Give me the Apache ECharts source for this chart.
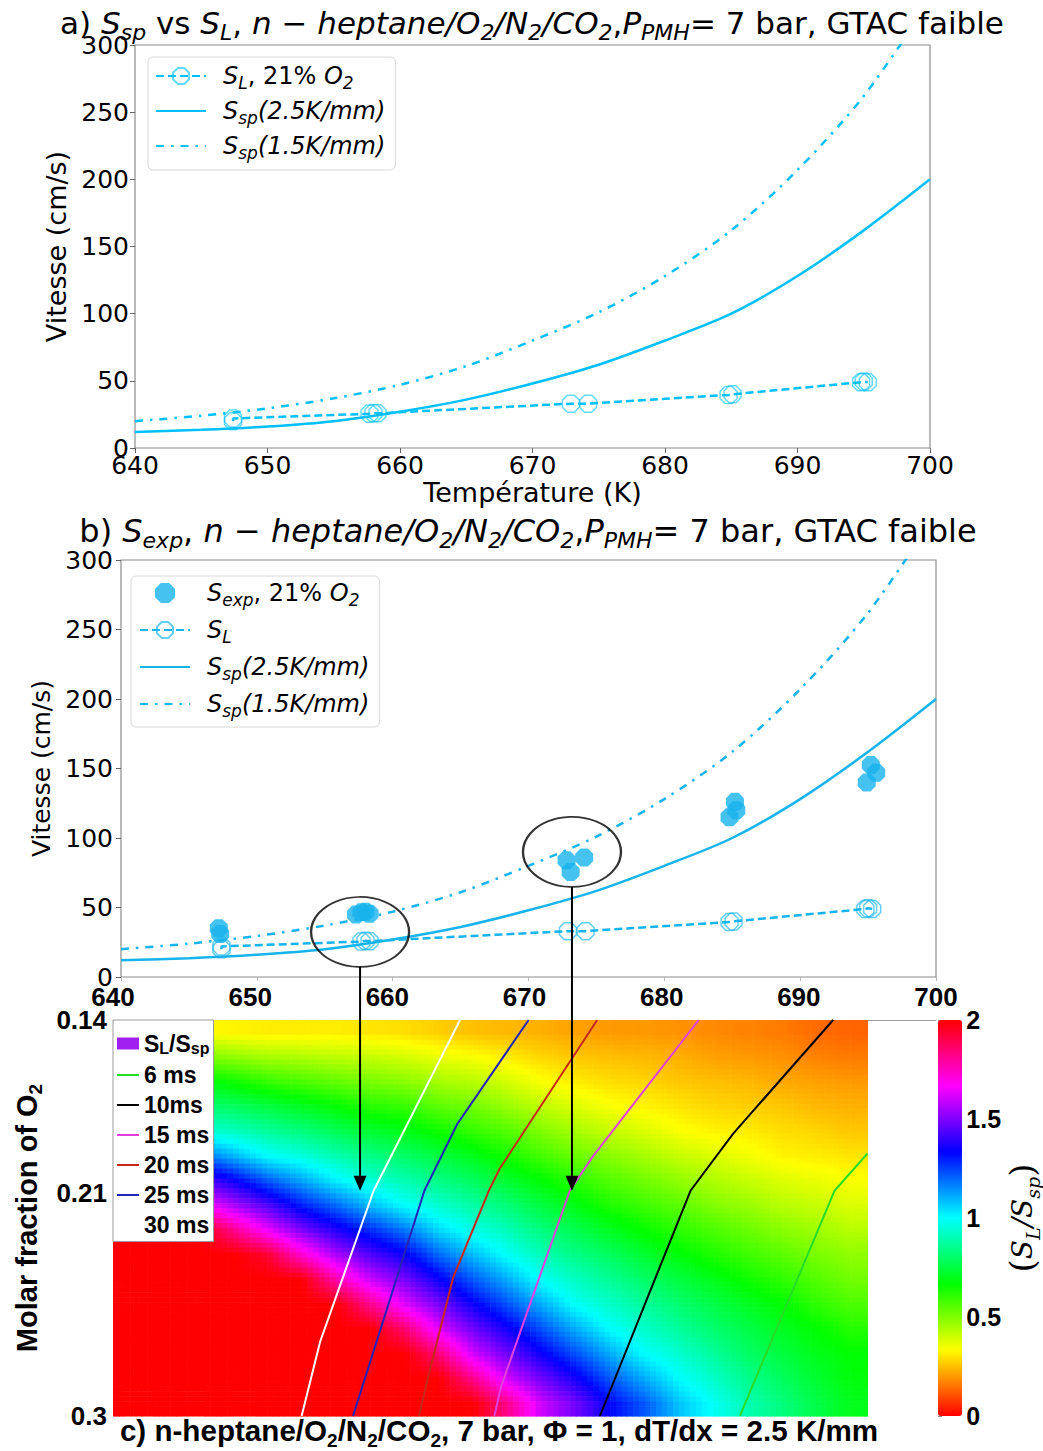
<!DOCTYPE html>
<html>
<head>
<meta charset="utf-8">
<script src="https://cdn.jsdelivr.net/npm/echarts@6/dist/echarts.min.js"></script>
<style>html,body{margin:0;padding:0;background:#fff;}#chart{width:1043px;height:1451px;}</style>
</head>
<body>
<div id="chart"></div>
<script>
// ---------------- data ----------------
const tempTicks = [640, 650, 660, 670, 680, 690, 700];
const speedTicks = [0, 50, 100, 150, 200, 250, 300];

// S_sp curves (cm/s) sampled every 5 K
const curveT = [640, 645, 650, 655, 660, 665, 670, 675, 680, 685, 690, 695, 700];
const ssp25 = [12, 13.5, 16, 20, 27, 36, 48, 62, 80, 100, 128, 162, 200];
const ssp15 = [20, 24, 29.5, 37, 47, 61, 80, 101, 128, 162, 207, 262, 333];

// laminar flame speed S_L (21% O2)
const slT = [647.4, 647.4, 657.7, 658.0, 658.3, 672.9, 674.2, 684.8, 685.1, 694.8, 695.0, 695.3];
const slV = [20, 22, 25.5, 26, 25.8, 33, 33, 39.5, 40, 49, 49.5, 49];

// experimental S_exp (21% O2)
const sexpT = [647.2, 647.3, 657.3, 657.7, 658.0, 658.3, 672.8, 673.1, 674.1, 684.8, 685.2, 685.3, 694.9, 695.2, 695.6];
const sexpV = [35, 31, 45, 46.5, 47, 45.5, 84, 75.5, 86, 115, 126, 120, 140, 152.5, 147];

// highlighted groups (circles) in panel b, and where the arrows land in panel c
const circleT = [657.6, 673.2];
const circleV = [32.4, 90];
const arrowTipO2 = 0.209;

// panel c: S_L/S_sp map, node values (T columns x O2 rows)
const mapT = [641.25, 643.75, 646.25, 648.75, 651.25, 653.75, 656.25, 658.75, 661.25, 663.75, 666.25,
              668.75, 671.25, 673.75, 676.25, 678.75, 681.25, 683.75, 686.25, 688.75, 691.25, 693.75];
const mapO2 = [0.145, 0.155, 0.165, 0.175, 0.185, 0.195, 0.205, 0.215, 0.225, 0.235, 0.245, 0.255, 0.265, 0.275, 0.285, 0.295];
const ratioRows = [
  [0.37,0.35,0.33,0.32,0.31,0.31,0.31,0.30,0.29,0.27,0.25,0.24,0.23,0.21,0.20,0.20,0.19,0.18,0.17,0.16,0.14,0.13],
  [0.57,0.54,0.51,0.48,0.45,0.44,0.42,0.41,0.39,0.36,0.34,0.31,0.28,0.26,0.25,0.24,0.23,0.21,0.20,0.19,0.17,0.16],
  [0.74,0.71,0.68,0.65,0.60,0.57,0.54,0.51,0.49,0.45,0.43,0.39,0.34,0.31,0.29,0.28,0.26,0.25,0.24,0.22,0.21,0.20],
  [0.88,0.85,0.82,0.79,0.75,0.71,0.67,0.62,0.60,0.55,0.52,0.47,0.42,0.38,0.34,0.32,0.30,0.28,0.27,0.26,0.24,0.23],
  [1.07,0.99,0.95,0.92,0.87,0.83,0.78,0.73,0.70,0.65,0.60,0.56,0.50,0.45,0.41,0.38,0.34,0.32,0.31,0.29,0.28,0.26],
  [1.39,1.30,1.20,1.10,1.00,0.96,0.90,0.84,0.80,0.75,0.70,0.64,0.58,0.53,0.49,0.45,0.41,0.38,0.35,0.32,0.31,0.30],
  [1.67,1.56,1.46,1.35,1.22,1.12,1.02,0.95,0.90,0.84,0.79,0.73,0.67,0.61,0.56,0.52,0.48,0.44,0.41,0.38,0.36,0.34],
  [1.97,1.85,1.70,1.56,1.44,1.30,1.20,1.09,1.00,0.94,0.88,0.82,0.75,0.69,0.63,0.59,0.55,0.50,0.47,0.43,0.41,0.38],
  [2.00,2.00,2.00,1.82,1.65,1.50,1.38,1.28,1.18,1.05,0.97,0.91,0.83,0.77,0.71,0.66,0.61,0.57,0.53,0.49,0.46,0.43],
  [2.00,2.00,2.00,2.00,1.94,1.73,1.56,1.44,1.35,1.20,1.09,0.99,0.91,0.84,0.79,0.73,0.68,0.63,0.59,0.55,0.51,0.48],
  [2.00,2.00,2.00,2.00,2.00,2.00,1.78,1.60,1.49,1.35,1.22,1.11,0.99,0.92,0.86,0.80,0.75,0.70,0.65,0.61,0.56,0.52],
  [2.00,2.00,2.00,2.00,2.00,2.00,2.00,1.82,1.63,1.49,1.35,1.23,1.11,0.99,0.93,0.87,0.81,0.76,0.71,0.67,0.61,0.57],
  [2.00,2.00,2.00,2.00,2.00,2.00,2.00,2.00,1.86,1.63,1.48,1.36,1.23,1.11,1.00,0.93,0.87,0.81,0.76,0.71,0.67,0.62],
  [2.00,2.00,2.00,2.00,2.00,2.00,2.00,2.00,2.00,1.85,1.61,1.48,1.35,1.23,1.11,1.00,0.94,0.87,0.80,0.75,0.70,0.67],
  [2.00,2.00,2.00,2.00,2.00,2.00,2.00,2.00,2.00,2.00,1.82,1.61,1.48,1.36,1.22,1.11,1.00,0.93,0.85,0.79,0.73,0.68],
  [2.00,2.00,2.00,2.00,2.00,2.00,2.00,2.00,2.00,2.00,2.00,1.82,1.60,1.48,1.33,1.22,1.08,0.99,0.90,0.83,0.76,0.70]
];
const ratioTicks = [0, 0.5, 1, 1.5, 2];
const o2Ticks = [0.14, 0.21, 0.3];

// ignition-delay iso-lines in panel c (T, O2)
const t6ms = [695.0, 692.6, 685.7];               const o6ms = [0.194, 0.209, 0.30];
const t10ms = [692.5, 685.2, 682.1, 675.5];       const o10ms = [0.14, 0.186, 0.209, 0.30];
const t15ms = [682.7, 675.0, 673.3, 668.3, 667.8]; const o15ms = [0.14, 0.195, 0.209, 0.288, 0.30];
const t20ms = [675.3, 668.2, 667.4, 664.8, 662.9, 662.3]; const o20ms = [0.14, 0.20, 0.209, 0.244, 0.286, 0.30];
const t25ms = [670.3, 665.1, 662.7, 657.5];       const o25ms = [0.14, 0.182, 0.209, 0.30];
const t30ms = [665.3, 659.0, 655.1, 653.75];      const o30ms = [0.14, 0.209, 0.27, 0.30];

// ---------------- helpers / styles ----------------
const zip = (a, b) => a.map((v, i) => [v, b[i]]);
const FONT = 'DejaVu Sans';
const BFONT = 'Liberation Sans';
const octagon = 'path://M-0.414,-1L0.414,-1L1,-0.414L1,0.414L0.414,1L-0.414,1L-1,0.414L-1,-0.414Z';
const blueA = '#00bfff';
const blueB = '#17b3ec';
const hsv = ['#ff0000','#ff8000','#ffff00','#80ff00','#00ff00','#00ff80','#00ffff',
             '#0080ff','#0000ff','#8000ff','#ff00ff','#ff0080','#ff0000'];

function mathRich(size, sub, lh) {
  return {
    n: {fontFamily: FONT, fontWeight: 'normal', fontSize: size, color: '#000', lineHeight: lh},
    i: {fontFamily: FONT, fontWeight: 'normal', fontStyle: 'italic', fontSize: size, color: '#000', lineHeight: lh},
    s: {fontFamily: FONT, fontWeight: 'normal', fontStyle: 'italic', fontSize: sub, color: '#000', lineHeight: Math.round(lh / 2), verticalAlign: 'bottom'},
    g: {fontSize: size, width: 12, lineHeight: lh}
  };
}
const boldRich = (size, sub, lh) => ({
  b: {fontFamily: BFONT, fontWeight: 'bold', fontSize: size, color: '#000', lineHeight: lh},
  bs: {fontFamily: BFONT, fontWeight: 'bold', fontSize: sub, color: '#000', lineHeight: Math.round(lh * 0.45), verticalAlign: 'bottom'}
});

const legendLabels = {
  a_SL: '{g| }{i|S}{s|L}{n|, 21% }{i|O}{s|2}',
  a_S25: '{g| }{i|S}{s|sp}{i|(2.5K/mm)}',
  a_S15: '{g| }{i|S}{s|sp}{i|(1.5K/mm)}',
  b_Sexp: '{g| }{i|S}{s|exp}{n|, 21% }{i|O}{s|2}',
  b_SL: '{g| }{i|S}{s|L}',
  b_S25: '{g| }{i|S}{s|sp}{i|(2.5K/mm)}',
  b_S15: '{g| }{i|S}{s|sp}{i|(1.5K/mm)}'
};
const noSymbol = {opacity: 0};

const heatData = [];
mapO2.forEach((o, i) => mapT.forEach((t, j) => heatData.push([t, o, ratioRows[i][j]])));
const halfT = (mapT[1] - mapT[0]) / 2;
const halfO = (mapO2[1] - mapO2[0]) / 2;
const ratioMin = ratioTicks[0], ratioMax = ratioTicks[ratioTicks.length - 1];

// smooth (interpolated) shading between the read node values, like the original "shading interp"
function shadeAt(t, o) {
  const nT = mapT.length, nO = mapO2.length;
  let fx = (t - mapT[0]) / (2 * halfT), fy = (o - mapO2[0]) / (2 * halfO);
  fx = Math.max(0, Math.min(nT - 1, fx));
  fy = Math.max(0, Math.min(nO - 1, fy));
  const j0 = Math.floor(fx), i0 = Math.floor(fy);
  const j1 = Math.min(j0 + 1, nT - 1), i1 = Math.min(i0 + 1, nO - 1);
  const ax = fx - j0, ay = fy - i0;
  const top = ratioRows[i0][j0] * (1 - ax) + ratioRows[i0][j1] * ax;
  const bot = ratioRows[i1][j0] * (1 - ax) + ratioRows[i1][j1] * ax;
  return top * (1 - ay) + bot * ay;
}
const SUBX = 6, SUBY = 5;

const tickLabel = {fontFamily: FONT, fontSize: 25, color: '#000'};
const boldLabel = {fontFamily: BFONT, fontWeight: 'bold', fontSize: 26, color: '#000'};
const gridFrame = {show: true, borderColor: '#8c8c8c', borderWidth: 1.2, backgroundColor: 'rgba(0,0,0,0)'};
const outTick = {show: true, length: 5, lineStyle: {color: '#666', width: 1}};

function contourSeries(name, ts, os, color) {
  return {
    name: name, type: 'line', xAxisIndex: 2, yAxisIndex: 2, data: zip(ts, os),
    symbol: 'none', silent: true, z: 4,
    lineStyle: {color: color, width: 2}, itemStyle: {color: color},
    emphasis: {disabled: true}
  };
}

const option = {
  animation: false,
  backgroundColor: '#fff',
  title: [
    {
      text: '{n|a) }{i|S}{s|sp}{n| vs }{i|S}{s|L}{n|, }{i|n − heptane/O}{s|2}{i|/N}{s|2}{i|/CO}{s|2}{n|,}{i|P}{s|PMH}{n|= 7 bar, GTAC faible}',
      left: 532, top: 3, textAlign: 'center', padding: 0,
      textStyle: {fontWeight: 'normal', rich: mathRich(31, 22, 40)}
    },
    {
      text: '{n|b) }{i|S}{s|exp}{n|, }{i|n − heptane/O}{s|2}{i|/N}{s|2}{i|/CO}{s|2}{n|,}{i|P}{s|PMH}{n|= 7 bar, GTAC faible}',
      left: 528, top: 511, textAlign: 'center', padding: 0,
      textStyle: {fontWeight: 'normal', rich: mathRich(32, 22, 40)}
    },
    {
      text: '{b|c) n-heptane/O}{bs|2}{b|/N}{bs|2}{b|/CO}{bs|2}{b|, 7 bar, Φ = 1, dT/dx = 2.5 K/mm}',
      left: 499, top: 1410, textAlign: 'center', padding: 0,
      textStyle: {rich: boldRich(29.6, 19, 40)}
    }
  ],
  legend: [
    {
      data: [{name: 'a_SL'}, {name: 'a_S25', itemStyle: noSymbol}, {name: 'a_S15', itemStyle: noSymbol}],
      left: 148, top: 57, orient: 'vertical',
      itemWidth: 50, itemHeight: 20, itemGap: 8, padding: [7, 10, 9, 7],
      backgroundColor: 'rgba(255,255,255,0.85)', borderColor: '#d8d8d8', borderWidth: 1, borderRadius: 5,
      selectedMode: false, formatter: n => legendLabels[n],
      textStyle: {fontFamily: FONT, fontSize: 24, rich: mathRich(24, 17, 30)}
    },
    {
      data: [{name: 'b_Sexp'}, {name: 'b_SL'}, {name: 'b_S25', itemStyle: noSymbol}, {name: 'b_S15', itemStyle: noSymbol}],
      left: 131, top: 576, orient: 'vertical',
      itemWidth: 50, itemHeight: 20, itemGap: 10, padding: [5, 10, 8, 8],
      backgroundColor: 'rgba(255,255,255,0.85)', borderColor: '#d8d8d8', borderWidth: 1, borderRadius: 5,
      selectedMode: false, formatter: n => legendLabels[n],
      textStyle: {fontFamily: FONT, fontSize: 24, rich: mathRich(24, 17, 30)}
    },
    {
      data: [{name: 'S_L/S_sp', icon: 'rect', itemStyle: {color: '#a020f0'}},
             {name: '6 ms', itemStyle: noSymbol}, {name: '10ms', itemStyle: noSymbol}, {name: '15 ms', itemStyle: noSymbol},
             {name: '20 ms', itemStyle: noSymbol}, {name: '25 ms', itemStyle: noSymbol}, {name: '30 ms', itemStyle: noSymbol}],
      left: 113, top: 1020, orient: 'vertical',
      itemWidth: 22, itemHeight: 12, itemGap: 7, padding: [12, 4, 5, 3],
      backgroundColor: '#fff', borderColor: '#9a9a9a', borderWidth: 1, borderRadius: 0,
      selectedMode: false,
      formatter: n => n === 'S_L/S_sp' ? '{b|S}{bs|L}{b|/S}{bs|sp}' : '{b|' + n + '}',
      textStyle: {rich: boldRich(23, 16, 26)}
    }
  ],
  grid: [
    Object.assign({left: 135, right: 113, top: 45, height: 403}, gridFrame),
    Object.assign({left: 121, right: 107, top: 560, height: 417}, gridFrame),
    {left: 113, right: 107, top: 1020, height: 396, show: false},
    {left: 938, width: 24, top: 1020, height: 396, show: false}
  ],
  xAxis: [
    {
      gridIndex: 0, type: 'value', min: tempTicks[0], max: tempTicks[tempTicks.length - 1], interval: tempTicks[1] - tempTicks[0],
      axisLine: {show: false}, axisTick: outTick, splitLine: {show: false},
      axisLabel: Object.assign({margin: 5}, tickLabel),
      name: 'Température (K)', nameLocation: 'middle', nameGap: 31,
      nameTextStyle: {fontFamily: FONT, fontSize: 27, color: '#000'}
    },
    {
      gridIndex: 1, type: 'value', min: tempTicks[0], max: tempTicks[tempTicks.length - 1], interval: tempTicks[1] - tempTicks[0],
      axisLine: {show: false}, axisTick: {show: true, length: 4, lineStyle: {color: '#bbb'}}, splitLine: {show: false},
      axisLabel: {show: false}
    },
    {
      gridIndex: 2, type: 'value', position: 'top', min: tempTicks[0], max: tempTicks[tempTicks.length - 1], interval: tempTicks[1] - tempTicks[0],
      axisLine: {show: true, onZero: false, lineStyle: {color: '#a0a0a0', width: 1}}, axisTick: {show: false}, splitLine: {show: false},
      axisLabel: Object.assign({margin: 10}, boldLabel)
    },
    {gridIndex: 3, type: 'value', min: 0, max: 1, show: false}
  ],
  yAxis: [
    {
      gridIndex: 0, type: 'value', min: speedTicks[0], max: speedTicks[speedTicks.length - 1], interval: speedTicks[1] - speedTicks[0],
      axisLine: {show: false}, axisTick: outTick, splitLine: {show: false},
      axisLabel: Object.assign({margin: 6}, tickLabel),
      name: 'Vitesse (cm/s)', nameLocation: 'middle', nameGap: 57,
      nameTextStyle: {fontFamily: FONT, fontSize: 27, color: '#000'}
    },
    {
      gridIndex: 1, type: 'value', min: speedTicks[0], max: speedTicks[speedTicks.length - 1], interval: speedTicks[1] - speedTicks[0],
      axisLine: {show: false}, axisTick: outTick, splitLine: {show: false},
      axisLabel: Object.assign({margin: 8}, tickLabel),
      name: 'Vitesse (cm/s)', nameLocation: 'middle', nameGap: 61,
      nameTextStyle: {fontFamily: FONT, fontSize: 25, color: '#000'}
    },
    {
      gridIndex: 2, type: 'value', inverse: true, min: o2Ticks[0], max: o2Ticks[o2Ticks.length - 1], interval: 0.01,
      axisLine: {show: false}, axisTick: {show: false}, splitLine: {show: false},
      axisLabel: Object.assign({
        margin: 6,
        formatter: v => o2Ticks.some(t => Math.abs(t - v) < 1e-6) ? String(+(+v).toFixed(2)) : ''
      }, boldLabel),
      name: '{b|Molar fraction of O}{bs|2}', nameLocation: 'middle', nameGap: 64, nameRotate: 90,
      nameTextStyle: {rich: boldRich(29, 19, 36)}
    },
    {
      gridIndex: 3, type: 'value', position: 'right', min: ratioMin, max: ratioMax, interval: ratioTicks[1] - ratioTicks[0],
      axisLine: {show: false}, axisTick: {show: true, length: 4, lineStyle: {color: '#888'}}, splitLine: {show: false},
      axisLabel: Object.assign({margin: 5}, boldLabel, {fontSize: 25}),
      name: '{p|(}{ci|S}{cs|L}{ci|/S}{cs|sp}{p|)}', nameLocation: 'middle', nameGap: 36, nameRotate: 90,
      nameTextStyle: {rich: {
        p: {fontFamily: 'DejaVu Serif', fontSize: 34, color: '#000', lineHeight: 40},
        ci: {fontFamily: 'DejaVu Serif', fontStyle: 'italic', fontSize: 28, color: '#000', lineHeight: 40},
        cs: {fontFamily: 'DejaVu Serif', fontStyle: 'italic', fontSize: 19, color: '#000', lineHeight: 20, verticalAlign: 'bottom'}
      }}
    }
  ],
  visualMap: {
    type: 'continuous', seriesIndex: 8, dimension: 2, min: ratioMin, max: ratioMax,
    calculable: false, realtime: false, hoverLink: false, orient: 'vertical',
    left: 938, top: 1020, itemWidth: 24, itemHeight: 396, padding: 0,
    inRange: {color: hsv}
  },
  series: [
    {
      name: 'a_SL', type: 'line', xAxisIndex: 0, yAxisIndex: 0, data: zip(slT, slV),
      symbol: octagon, symbolSize: 17, z: 5, emphasis: {disabled: true},
      lineStyle: {color: blueA, width: 2.5, type: [8, 4]},
      itemStyle: {color: 'rgba(255,255,255,0)', borderColor: 'rgba(0,191,255,0.6)', borderWidth: 1.5}
    },
    {
      name: 'a_S25', type: 'line', xAxisIndex: 0, yAxisIndex: 0, data: zip(curveT, ssp25),
      symbol: 'none', smooth: 0.3, z: 3, emphasis: {disabled: true},
      lineStyle: {color: blueA, width: 2.5}, itemStyle: {color: blueA}
    },
    {
      name: 'a_S15', type: 'line', xAxisIndex: 0, yAxisIndex: 0, data: zip(curveT, ssp15),
      symbol: 'none', smooth: 0.3, z: 3, emphasis: {disabled: true},
      lineStyle: {color: blueA, width: 2.5, type: [8, 7, 2.5, 7]}, itemStyle: {color: blueA}
    },
    {
      name: 'b_Sexp', type: 'scatter', xAxisIndex: 1, yAxisIndex: 1, data: zip(sexpT, sexpV),
      symbol: octagon, symbolSize: 18, z: 4, emphasis: {disabled: true},
      itemStyle: {color: blueB}
    },
    {
      name: 'b_SL', type: 'line', xAxisIndex: 1, yAxisIndex: 1, data: zip(slT, slV),
      symbol: octagon, symbolSize: 17, z: 5, emphasis: {disabled: true},
      lineStyle: {color: blueB, width: 2.5, type: [8, 4]},
      itemStyle: {color: 'rgba(255,255,255,0)', borderColor: 'rgba(23,179,236,0.65)', borderWidth: 1.5}
    },
    {
      name: 'b_S25', type: 'line', xAxisIndex: 1, yAxisIndex: 1, data: zip(curveT, ssp25),
      symbol: 'none', smooth: 0.3, z: 3, emphasis: {disabled: true},
      lineStyle: {color: blueB, width: 2.5}, itemStyle: {color: blueB}
    },
    {
      name: 'b_S15', type: 'line', xAxisIndex: 1, yAxisIndex: 1, data: zip(curveT, ssp15),
      symbol: 'none', smooth: 0.3, z: 3, emphasis: {disabled: true},
      lineStyle: {color: blueB, width: 2.5, type: [8, 7, 2.5, 7]}, itemStyle: {color: blueB}
    },
    {
      name: 'circles', type: 'scatter', xAxisIndex: 1, yAxisIndex: 1, data: zip(circleT, circleV),
      symbol: 'circle', symbolSize: [98, 70], silent: true, z: 6, emphasis: {disabled: true},
      itemStyle: {color: 'rgba(0,0,0,0)', borderColor: '#000', borderWidth: 2}
    },
    {
      name: 'S_L/S_sp', type: 'custom', xAxisIndex: 2, yAxisIndex: 2, data: heatData,
      dimensions: ['T', 'O2', 'ratio'], encode: {x: 0, y: 1}, silent: true, z: 1,
      renderItem: function (params, api) {
        const t = api.value(0), o = api.value(1);
        const dt = 2 * halfT / SUBX, dO = 2 * halfO / SUBY;
        const children = [];
        for (let a = 0; a < SUBX; a++) {
          for (let b = 0; b < SUBY; b++) {
            const t0 = t - halfT + a * dt, o0 = o - halfO + b * dO;
            const p1 = api.coord([t0, o0]);
            const p2 = api.coord([t0 + dt, o0 + dO]);
            const v = shadeAt(t0 + dt / 2, o0 + dO / 2);
            const k = Math.max(0, Math.min(1, (v - ratioMin) / (ratioMax - ratioMin)));
            children.push({
              type: 'rect',
              shape: {
                x: Math.min(p1[0], p2[0]), y: Math.min(p1[1], p2[1]),
                width: Math.abs(p2[0] - p1[0]) + 0.6, height: Math.abs(p2[1] - p1[1]) + 0.6
              },
              style: {fill: echarts.color.lerp(k, hsv), stroke: null}
            });
          }
        }
        return {type: 'group', children: children};
      }
    },
    contourSeries('6 ms', t6ms, o6ms, '#25dd25'),
    contourSeries('10ms', t10ms, o10ms, '#000000'),
    contourSeries('15 ms', t15ms, o15ms, '#e23fe2'),
    contourSeries('20 ms', t20ms, o20ms, '#c8281a'),
    contourSeries('25 ms', t25ms, o25ms, '#2424b8'),
    contourSeries('30 ms', t30ms, o30ms, '#ffffff')
  ]
};

const chart = echarts.init(document.getElementById('chart'), null, {renderer: 'svg', width: 1043, height: 1451});
chart.setOption(option);

// arrows from the highlighted groups (panel b) down to 21% O2 in panel c
const halfCircle = option.series[7].symbolSize[1] / 2;
const arrows = [];
circleT.forEach((t, i) => {
  const c = chart.convertToPixel({xAxisIndex: 1, yAxisIndex: 1}, [t, circleV[i]]);
  const tip = chart.convertToPixel({xAxisIndex: 2, yAxisIndex: 2}, [t, arrowTipO2]);
  const x = c[0];
  arrows.push({type: 'line', silent: true, z: 100,
    shape: {x1: x, y1: c[1] + halfCircle, x2: x, y2: tip[1] - 12},
    style: {stroke: '#000', lineWidth: 2}});
  arrows.push({type: 'polygon', silent: true, z: 100,
    shape: {points: [[x - 6.5, tip[1] - 15], [x + 6.5, tip[1] - 15], [x, tip[1]]]},
    style: {fill: '#000'}});
});
chart.setOption({graphic: arrows});
</script>
</body>
</html>
